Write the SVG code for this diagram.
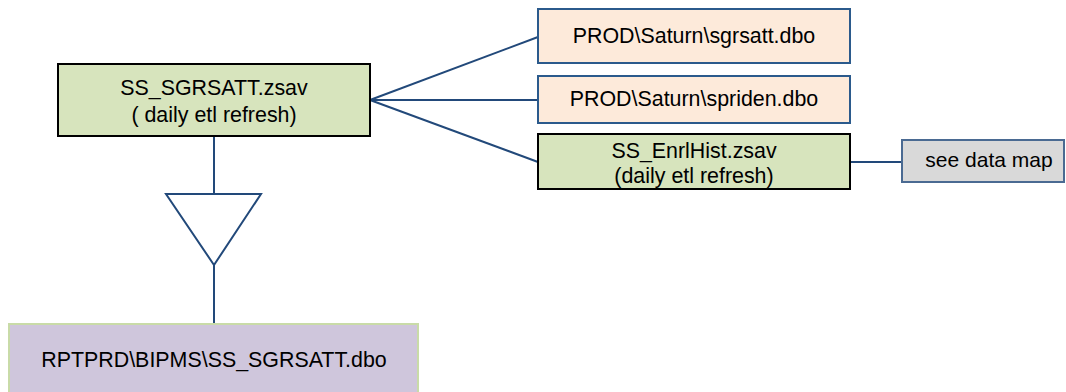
<svg xmlns="http://www.w3.org/2000/svg" width="1066" height="392" viewBox="0 0 1066 392">
<style>
text{font-family:"Liberation Sans",Arial,sans-serif;font-size:21.4px;fill:#000;text-anchor:middle}
.green{fill:#D7E4BD;stroke:#000;stroke-width:2}
.peach{fill:#FDEADA;stroke:#2B5A8C;stroke-width:2}
.grey{fill:#D9D9D9;stroke:#4A6A92;stroke-width:2}
.purple{fill:#CFC6DC;stroke:#C9DBA8;stroke-width:2}
.conn{stroke:#22497A;stroke-width:2;fill:none}
</style>
<rect width="1066" height="392" fill="#fff"/>
<g id="connectors">
<line class="conn" x1="370" y1="100" x2="538" y2="37"/>
<line class="conn" x1="370" y1="100" x2="538" y2="100"/>
<line class="conn" x1="370" y1="100" x2="538" y2="162"/>
<line class="conn" x1="850" y1="162" x2="902" y2="162"/>
<line class="conn" x1="214" y1="136" x2="214" y2="194"/>
<polygon class="conn" points="166,194 261,194 214,265"/>
<line class="conn" x1="214" y1="265" x2="214" y2="324"/>
</g>
<g id="ss_sgrsatt">
<rect class="green" x="58" y="64" width="312" height="72"/>
<text x="214" y="95">SS_SGRSATT.zsav</text>
<text x="214" y="122">( daily etl refresh)</text>
</g>
<g id="sgrsatt_dbo">
<rect class="peach" x="538" y="9" width="312" height="54"/>
<text x="694" y="43">PROD\Saturn\sgrsatt.dbo</text>
</g>
<g id="spriden_dbo">
<rect class="peach" x="538" y="76" width="312" height="47"/>
<text x="694" y="106">PROD\Saturn\spriden.dbo</text>
</g>
<g id="enrlhist">
<rect class="green" x="538" y="134" width="312" height="55"/>
<text x="694" y="158">SS_EnrlHist.zsav</text>
<text x="694" y="183">(daily etl refresh)</text>
</g>
<g id="datamap">
<rect class="grey" x="902" y="140" width="162" height="42"/>
<text x="989" y="167" style="font-size:21px">see data map</text>
</g>
<g id="rptprd">
<rect class="purple" x="9" y="324" width="409" height="80"/>
<text x="214" y="367">RPTPRD\BIPMS\SS_SGRSATT.dbo</text>
</g>
</svg>
